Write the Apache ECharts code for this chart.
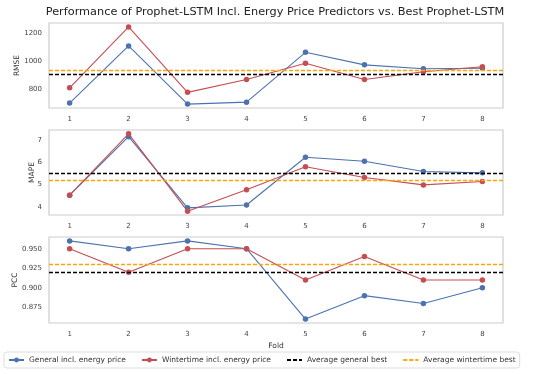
<!DOCTYPE html>
<html><head><meta charset="utf-8">
<script src="https://cdn.jsdelivr.net/npm/echarts@6/dist/echarts.min.js"></script>
<style>html,body{margin:0;padding:0;background:#fff}#c{width:550px;height:374px}</style>
</head><body><div id="c"></div>
<script>
const folds = [1, 2, 3, 4, 5, 6, 7, 8];
const rmseGeneral = [702, 1112, 695, 709, 1066, 976, 948, 952];
const rmseWinter = [812, 1248, 779, 871, 988, 871, 927, 962];
const mapeGeneral = [4.53, 7.15, 3.96, 4.09, 6.23, 6.05, 5.59, 5.53];
const mapeWinter = [4.53, 7.28, 3.81, 4.77, 5.80, 5.32, 4.99, 5.14];
const pccGeneral = [0.96, 0.95, 0.96, 0.95, 0.86, 0.89, 0.88, 0.90];
const pccWinter = [0.95, 0.92, 0.95, 0.95, 0.91, 0.94, 0.91, 0.91];
const avgGeneralBest = [912, 5.52, 0.92];
const avgWinterBest = [934, 5.21, 0.93];
const metricNames = ['RMSE', 'MAPE', 'PCC'];
const yTicks = [[800, 1000, 1200], [4, 5, 6, 7], [0.875, 0.900, 0.925, 0.950]];
const yRanges = [[667, 1276], [3.64, 7.45], [0.855, 0.965]];

const BLUE = '#4c72b0', RED = '#c44e52', BLACK = '#000000', ORANGE = '#ffa500';
const FONT = 'DejaVu Sans';
const grids = [
  {left: 49, right: 47, top: 23, height: 85},
  {left: 49, right: 47, top: 130, height: 85},
  {left: 49, right: 47, top: 237, height: 86}
].map(g => Object.assign(g, {show: true, borderColor: '#cccccc', borderWidth: 1.2, backgroundColor: '#fff',
  containLabel: false, outerBoundsMode: 'none'}));

const generalSets = [rmseGeneral, mapeGeneral, pccGeneral];
const winterSets = [rmseWinter, mapeWinter, pccWinter];
const nameGaps = [28, 13, 30];

const xAxes = grids.map((g, i) => ({
  type: 'value', gridIndex: i, min: 0.65, max: 8.35,
  axisLine: {show: false}, axisTick: {show: false}, splitLine: {show: false},
  axisLabel: {customValues: folds, color: '#444', fontSize: 7, fontFamily: FONT, margin: 8},
  name: i === 2 ? 'Fold' : '', nameLocation: 'middle', nameGap: 19, nameMoveOverlap: false,
  nameTextStyle: {color: '#333', fontSize: 7.5, fontFamily: FONT}
}));
const yAxes = grids.map((g, i) => ({
  type: 'value', gridIndex: i, min: yRanges[i][0], max: yRanges[i][1],
  axisLine: {show: false}, axisTick: {show: false}, splitLine: {show: false},
  axisLabel: {customValues: yTicks[i], color: '#444', fontSize: 7, fontFamily: FONT, margin: 7,
    formatter: v => i === 2 ? v.toFixed(3) : String(v)},
  name: metricNames[i], nameLocation: 'middle', nameGap: nameGaps[i], nameRotate: 90, nameMoveOverlap: false,
  nameTextStyle: {color: '#333', fontSize: 7.5, fontFamily: FONT}
}));

const series = [];
for (let i = 0; i < 3; i++) {
  series.push({
    name: 'General incl. energy price', type: 'line', xAxisIndex: i, yAxisIndex: i,
    data: folds.map((f, k) => [f, generalSets[i][k]]),
    symbol: 'circle', symbolSize: 5.5, color: BLUE, lineStyle: {width: 1.1, color: BLUE}, z: 3
  });
  series.push({
    name: 'Wintertime incl. energy price', type: 'line', xAxisIndex: i, yAxisIndex: i,
    data: folds.map((f, k) => [f, winterSets[i][k]]),
    symbol: 'circle', symbolSize: 5.5, color: RED, lineStyle: {width: 1.1, color: RED}, z: 3
  });
  series.push({
    name: 'Average general best', type: 'line', xAxisIndex: i, yAxisIndex: i, data: [],
    symbol: 'none', color: BLACK, lineStyle: {type: [4, 2], width: 1.3, color: BLACK},
    markLine: {silent: true, symbol: 'none', label: {show: false},
      lineStyle: {type: [4, 2], width: 1.3, color: BLACK}, data: [{yAxis: avgGeneralBest[i]}]}
  });
  series.push({
    name: 'Average wintertime best', type: 'line', xAxisIndex: i, yAxisIndex: i, data: [],
    symbol: 'none', color: ORANGE, lineStyle: {type: [4, 2], width: 1.3, color: ORANGE},
    markLine: {silent: true, symbol: 'none', label: {show: false},
      lineStyle: {type: [4, 2], width: 1.3, color: ORANGE}, data: [{yAxis: avgWinterBest[i]}]}
  });
}

const chart = echarts.init(document.getElementById('c'), null, {renderer: 'canvas'});
chart.setOption({
  animation: false,
  backgroundColor: '#fff',
  title: {text: 'Performance of Prophet-LSTM Incl. Energy Price Predictors vs. Best Prophet-LSTM',
    left: 'center', top: 2, textStyle: {fontSize: 11.3, fontWeight: 'normal', color: '#222', fontFamily: FONT}},
  grid: grids,
  xAxis: xAxes,
  yAxis: yAxes,
  legend: {
    data: [
      'General incl. energy price',
      'Wintertime incl. energy price',
      {name: 'Average general best', itemStyle: {opacity: 0}},
      {name: 'Average wintertime best', itemStyle: {opacity: 0}}
    ],
    left: 4, top: 352, padding: [4, 4], itemGap: 15, itemWidth: 15, itemHeight: 6,
    borderColor: '#dddddd', borderWidth: 1, borderRadius: 3,
    textStyle: {fontSize: 7.5, color: '#333', fontFamily: FONT}
  },
  series: series
});
</script></body></html>
